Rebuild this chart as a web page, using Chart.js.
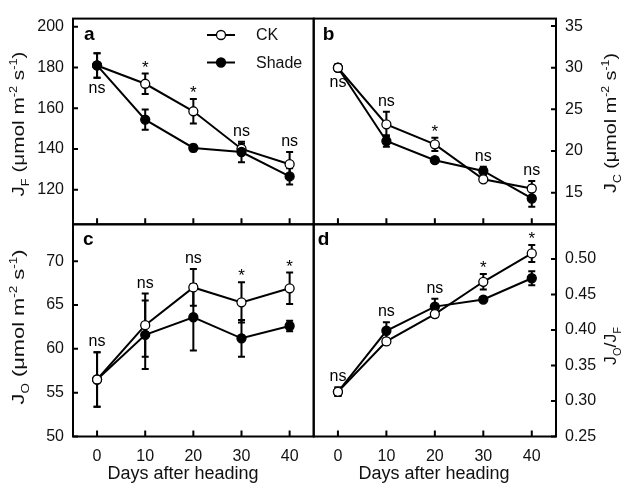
<!DOCTYPE html>
<html lang="en">
<head>
    <meta charset="UTF-8">
    <title>Electron flux after heading, CK vs Shade</title>
    <script src="https://cdn.jsdelivr.net/npm/chart.js"></script>
    <style>
        body { margin: 0; background: #fff; }
        #wrap { position: relative; width: 627px; height: 491px; }
        #wrap canvas { position: absolute; left: 0; top: 0; }
    </style>
</head>
<body>
    <div id="wrap">
        <canvas id="pa" width="627" height="491"></canvas>
        <canvas id="pb" width="627" height="491"></canvas>
        <canvas id="pc" width="627" height="491"></canvas>
        <canvas id="pd" width="627" height="491"></canvas>
    </div>

    <script>
        // x categories (days after heading), also the x tick labels
        const days = [0, 10, 20, 30, 40];

        // a: J_F
        const jfCK = [181, 172, 158.5, 140, 132.5];
        const jfCKErr = [6, 5, 6, 2.5, 6];
        const jfShade = [181, 154.4, 140.5, 138.5, 126.5];
        const jfShadeErr = [6, 5, 1.6, 5, 4];
        const jfSig = ['ns', '*', '*', 'ns', 'ns'];

        // b: J_C
        const jcCK = [30, 23.2, 20.8, 16.6, 15.5];
        const jcCKErr = [0.4, 1.5, 0.8, 0.3, 0.9];
        const jcShade = [30, 21.2, 18.9, 17.6, 14.3];
        const jcShadeErr = [0.4, 0.7, 0.3, 0.5, 1.0];
        const jcSig = ['ns', 'ns', '*', 'ns', 'ns'];

        // c: J_O
        const joCK = [56.5, 62.7, 67.0, 65.3, 66.9];
        const joCKErr = [3.1, 3.6, 2.1, 2.3, 1.8];
        const joShade = [56.5, 61.6, 63.6, 61.2, 62.6];
        const joShadeErr = [3.1, 3.9, 3.8, 2.1, 0.6];
        const joSig = ['ns', 'ns', 'ns', '*', '*'];

        // d: J_O / J_F
        const ratioCK = [0.313, 0.384, 0.4225, 0.468, 0.508];
        const ratioCKErr = [0.006, 0.004, 0.004, 0.011, 0.012];
        const ratioShade = [0.313, 0.399, 0.433, 0.443, 0.473];
        const ratioShadeErr = [0.006, 0.012, 0.011, 0.003, 0.01];
        const ratioSig = ['ns', 'ns', 'ns', '*', '*'];

        const seriesNames = ['CK', 'Shade'];
        const xTitle = 'Days after heading';

        const FONT = '"Liberation Sans", Arial, sans-serif';
        const W = 627, H = 491;
        const R = 4.5;
        Chart.defaults.font.family = FONT;
        Chart.defaults.color = '#111';

        const unitParts = [[' (μmol m', 'n'], ['-2', 'sup'], [' s', 'n'], ['-1', 'sup'], [')', 'n']];

        const panels = [
            {
                id: 'pa', letter: 'a', letterDx: 11, ck: jfCK, ckErr: jfCKErr, shade: jfShade, shadeErr: jfShadeErr, sig: jfSig,
                yMin: 103, yMax: 204, yStep: 20, digits: 0, side: 'left',
                area: { l: 73, t: 15, r: 313.7, b: 224.3 }, xLabels: false, firstBelow: true, shadeOnTop: true, legend: true,
                title: [['J', 'n'], ['F', 'sub']].concat(unitParts), titleX: 18, titleY: 124, titleLen: 145
            },
            {
                id: 'pb', letter: 'b', letterDx: 9, ck: jcCK, ckErr: jcCKErr, shade: jcShade, shadeErr: jcShadeErr, sig: jcSig,
                yMin: 11.2, yMax: 35.9, yStep: 5, digits: 0, side: 'right',
                area: { l: 313.7, t: 15, r: 556, b: 224.3 }, xLabels: false, firstBelow: true,
                title: [['J', 'n'], ['C', 'sub']].concat(unitParts), titleX: 610, titleY: 123, titleLen: 140
            },
            {
                id: 'pc', letter: 'c', letterDx: 10, ck: joCK, ckErr: joCKErr, shade: joShade, shadeErr: joShadeErr, sig: joSig,
                yMin: 50, yMax: 74.2, yStep: 5, digits: 0, side: 'left',
                area: { l: 73, t: 224.3, r: 313.7, b: 436.5 }, xLabels: true, xTitleX: 183,
                title: [['J', 'n'], ['O', 'sub']].concat(unitParts), titleX: 18, titleY: 327, titleLen: 155
            },
            {
                id: 'pd', letter: 'd', letterDx: 4, ck: ratioCK, ckErr: ratioCKErr, shade: ratioShade, shadeErr: ratioShadeErr, sig: ratioSig,
                yMin: 0.25, yMax: 0.549, yStep: 0.05, digits: 2, side: 'right',
                area: { l: 313.7, t: 224.3, r: 556, b: 436.5 }, xLabels: true, xTitleX: 434,
                title: [['J', 'n'], ['O', 'sub'], ['/', 'n'], ['J', 'n'], ['F', 'sub']], titleX: 610, titleY: 346, titleLen: 38
            }
        ];

        function drawRich(ctx, parts, cx, cy, size, targetLen) {
            ctx.save();
            ctx.translate(cx, cy);
            ctx.rotate(-Math.PI / 2);
            let total = 0;
            const runs = parts.map(([t, s]) => {
                const fs = s === 'n' ? size : size * 0.62;
                ctx.font = fs + 'px ' + FONT;
                const w = ctx.measureText(t).width;
                total += w;
                return { t, s, fs, w };
            });
            ctx.scale(targetLen ? targetLen / total : 1, 1);
            ctx.fillStyle = '#111';
            ctx.textAlign = 'left';
            ctx.textBaseline = 'alphabetic';
            let x = -total / 2;
            runs.forEach(r => {
                ctx.font = r.fs + 'px ' + FONT;
                const dy = r.s === 'sub' ? size * 0.28 : (r.s === 'sup' ? -size * 0.4 : 0);
                ctx.fillText(r.t, x, size * 0.36 + dy);
                x += r.w;
            });
            ctx.restore();
        }

        function decoPlugin(p) {
            return {
                id: 'deco',
                beforeDatasetsDraw(chart) {
                    // error bars, under the markers
                    const ctx = chart.ctx, xs = chart.scales.x, ys = chart.scales.y;
                    ctx.save();
                    ctx.strokeStyle = '#000';
                    ctx.lineWidth = 2;
                    chart.data.datasets.forEach(ds => {
                        ds.data.forEach((pt, i) => {
                            const px = xs.getPixelForValue(pt.x);
                            const y1 = ys.getPixelForValue(pt.y + ds.errors[i]);
                            const y2 = ys.getPixelForValue(pt.y - ds.errors[i]);
                            ctx.beginPath();
                            ctx.moveTo(px, y1); ctx.lineTo(px, y2);
                            ctx.moveTo(px - 3.5, y1); ctx.lineTo(px + 3.5, y1);
                            ctx.moveTo(px - 3.5, y2); ctx.lineTo(px + 3.5, y2);
                            ctx.stroke();
                        });
                    });
                    ctx.restore();
                },
                afterDraw(chart) {
                    const ctx = chart.ctx, a = chart.chartArea, xs = chart.scales.x, ys = chart.scales.y;
                    ctx.save();
                    // frame
                    ctx.strokeStyle = '#000';
                    ctx.lineWidth = 2;
                    ctx.strokeRect(a.left, a.top, a.right - a.left, a.bottom - a.top);
                    // inward tick marks
                    ctx.beginPath();
                    xs.ticks.forEach(t => {
                        const px = xs.getPixelForValue(t.value);
                        ctx.moveTo(px, a.bottom); ctx.lineTo(px, a.bottom - 6);
                    });
                    const ex = p.side === 'left' ? a.left : a.right;
                    const dir = p.side === 'left' ? 1 : -1;
                    ys.ticks.forEach(t => {
                        const py = ys.getPixelForValue(t.value);
                        ctx.moveTo(ex, py); ctx.lineTo(ex + dir * 5, py);
                    });
                    ctx.stroke();

                    // panel letter
                    ctx.fillStyle = '#000';
                    ctx.font = 'bold 19px ' + FONT;
                    ctx.textAlign = 'left';
                    ctx.textBaseline = 'alphabetic';
                    ctx.fillText(p.letter, a.left + p.letterDx, a.top + 21);

                    // significance marks
                    ctx.textAlign = 'center';
                    days.forEach((d, i) => {
                        const px = xs.getPixelForValue(d);
                        const tops = [], bots = [];
                        [[p.ck, p.ckErr], [p.shade, p.shadeErr]].forEach(([v, e]) => {
                            tops.push(Math.min(ys.getPixelForValue(v[i] + e[i]), ys.getPixelForValue(v[i]) - R));
                            bots.push(Math.max(ys.getPixelForValue(v[i] - e[i]), ys.getPixelForValue(v[i]) + R));
                        });
                        const s = p.sig[i];
                        ctx.font = (s === '*' ? '17px ' : '16px ') + FONT;
                        if (i === 0 && p.firstBelow) {
                            ctx.fillText(s, px, Math.max(...bots) + 15);
                        } else {
                            ctx.fillText(s, px, Math.min(...tops) - (s === '*' ? 1 : 6));
                        }
                    });

                    // legend
                    if (p.legend) {
                        chart.data.datasets.forEach((ds, k) => {
                            const ly = 35 + k * 27.5;
                            ctx.beginPath();
                            ctx.lineWidth = 2;
                            ctx.moveTo(207, ly); ctx.lineTo(235, ly);
                            ctx.stroke();
                            ctx.beginPath();
                            ctx.arc(221, ly, R, 0, Math.PI * 2);
                            ctx.fillStyle = ds.pointBackgroundColor;
                            ctx.fill();
                            ctx.lineWidth = 1.3;
                            ctx.stroke();
                            ctx.fillStyle = '#111';
                            ctx.font = '16px ' + FONT;
                            ctx.textAlign = 'left';
                            ctx.textBaseline = 'middle';
                            ctx.fillText(ds.label, 256, ly + 1);
                        });
                    }

                    // axis titles
                    drawRich(ctx, p.title, p.titleX, p.titleY, 17, p.titleLen);
                    if (p.xLabels) {
                        ctx.fillStyle = '#111';
                        ctx.font = '18px ' + FONT;
                        ctx.textAlign = 'center';
                        ctx.textBaseline = 'alphabetic';
                        ctx.fillText(xTitle, p.xTitleX, 479);
                    }
                    ctx.restore();
                }
            };
        }

        panels.forEach(p => {
            const yw = 60;
            const xh = p.xLabels ? 32 : 0;
            const padLeft = p.side === 'left' ? p.area.l - yw : p.area.l;
            const padRight = p.side === 'right' ? W - p.area.r - yw : W - p.area.r;
            const padBottom = H - p.area.b - xh;

            new Chart(document.getElementById(p.id), {
                type: 'line',
                data: {
                    datasets: [
                        {
                            label: seriesNames[0],
                            data: days.map((d, i) => ({ x: d, y: p.ck[i] })),
                            errors: p.ckErr,
                            borderColor: '#000',
                            borderWidth: 2,
                            pointRadius: R,
                            pointBorderWidth: 1.3,
                            pointBorderColor: '#000',
                            pointBackgroundColor: '#fff',
                            order: 0
                        },
                        {
                            label: seriesNames[1],
                            data: days.map((d, i) => ({ x: d, y: p.shade[i] })),
                            errors: p.shadeErr,
                            borderColor: '#000',
                            borderWidth: 2,
                            pointRadius: R,
                            pointBorderWidth: 1.3,
                            pointBorderColor: '#000',
                            pointBackgroundColor: '#000',
                            order: p.shadeOnTop ? -1 : 1
                        }
                    ]
                },
                options: {
                    responsive: false,
                    animation: false,
                    devicePixelRatio: 1,
                    events: [],
                    layout: { padding: { left: padLeft, right: padRight, top: p.area.t, bottom: padBottom } },
                    scales: {
                        x: {
                            type: 'linear',
                            position: 'bottom',
                            min: -5,
                            max: 45,
                            grid: { display: false, drawTicks: false },
                            border: { display: false },
                            ticks: { display: p.xLabels, padding: 10, font: { size: 16 } },
                            afterBuildTicks: s => { s.ticks = days.map(v => ({ value: v })); },
                            afterFit: s => { s.height = xh; }
                        },
                        y: {
                            type: 'linear',
                            position: p.side,
                            min: p.yMin,
                            max: p.yMax,
                            grid: { display: false, drawTicks: false },
                            border: { display: false },
                            ticks: {
                                stepSize: p.yStep,
                                includeBounds: false,
                                padding: 9,
                                font: { size: 16 },
                                callback: v => Number(v).toFixed(p.digits)
                            },
                            afterFit: s => { s.width = yw; }
                        }
                    },
                    plugins: {
                        legend: { display: false },
                        tooltip: { enabled: false }
                    }
                },
                plugins: [decoPlugin(p)]
            });
        });
    </script>
</body>
</html>
